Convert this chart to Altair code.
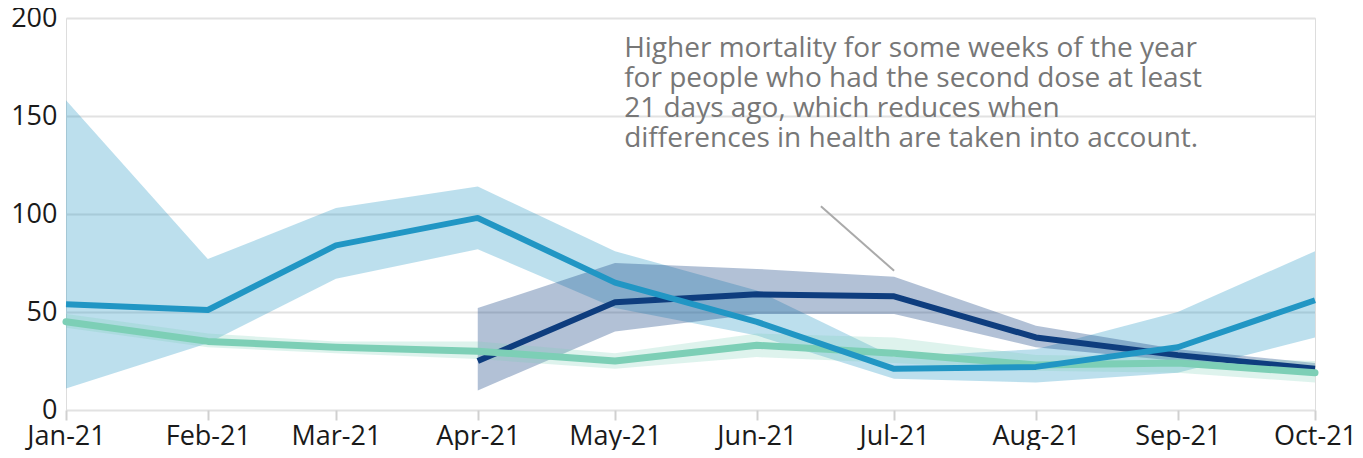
import altair as alt
import pandas as pd

months = ["2021-01-01T00:00:00", "2021-02-01T00:00:00", "2021-03-01T00:00:00",
          "2021-04-01T00:00:00", "2021-05-01T00:00:00", "2021-06-01T00:00:00",
          "2021-07-01T00:00:00", "2021-08-01T00:00:00", "2021-09-01T00:00:00",
          "2021-10-01T00:00:00"]

# light blue series
blue_val = [54, 51, 84, 98, 65, 45, 21, 22, 32, 56]
blue_lo = [11, 34, 67, 82, 52, 38, 16, 14, 19, 37]
blue_hi = [158, 77, 103, 114, 81, 61, 27, 31, 50, 81]

# navy series (from Apr-21)
navy_months = months[3:]
navy_val = [25, 55, 59, 58, 37, 28, 21]
navy_lo = [10, 40, 49, 49, 32, 25, 20]
navy_hi = [52, 75, 72, 68, 43, 31, 24]

# green series
green_val = [45, 35, 32, 30, 25, 33, 29, 23, 24, 19]
green_lo = [42, 32, 29, 26, 21, 27, 24, 20, 19, 14]
green_hi = [49, 39, 35, 35, 29, 39, 37, 28, 27, 25]

note_text = ["Higher mortality for some weeks of the year",
             "for people who had the second dose at least",
             "21 days ago, which reduces when",
             "differences in health are taken into account."]
note_date = ["2021-05-03T00:00:00"]
note_value = [191.5]
pointer_dates = ["2021-06-15T00:00:00", "2021-07-01T00:00:00"]
pointer_values = [104, 71]

BLUE = "#2196c4"
NAVY = "#0e3d7e"
GREEN = "#7dcfb6"
FONT = "Open Sans"

def frame(dates, val, lo, hi):
    return pd.DataFrame({"date": dates, "value": val, "lo": lo, "hi": hi})

blue_df = frame(months, blue_val, blue_lo, blue_hi)
navy_df = frame(navy_months, navy_val, navy_lo, navy_hi)
green_df = frame(months, green_val, green_lo, green_hi)

x_values = [alt.DateTime(year=2021, month=m, date=1) for m in range(1, 11)]
x_enc = alt.X("date:T",
              scale=alt.Scale(domain=[alt.DateTime(year=2021, month=1, date=1),
                                      alt.DateTime(year=2021, month=10, date=1)],
                              nice=False),
              axis=alt.Axis(values=x_values, format="%b-%y", title=None, grid=False,
                            domain=False, tickSize=10, tickWidth=2, tickColor="#d0d0d0",
                            labelFontSize=27, labelFont=FONT, labelColor="#1a1a1a",
                            labelPadding=3, labelFlush=False, labelOverlap=False))
y_scale = alt.Scale(domain=[0, 200], nice=False)
y_enc = alt.Y("lo:Q", scale=y_scale,
              axis=alt.Axis(values=[0, 50, 100, 150, 200], title=None, domain=False,
                            ticks=False, grid=True, gridColor="#e2e2e2", gridWidth=2,
                            labelFontSize=27, labelFont=FONT, labelColor="#1a1a1a",
                            labelPadding=9))

def band(df, color, op):
    return alt.Chart(df).mark_area(color=color, opacity=op).encode(
        x=x_enc, y=y_enc, y2="hi:Q")

def line(df, color, w, cap):
    return alt.Chart(df).mark_line(color=color, strokeWidth=w, strokeCap=cap,
                                   strokeJoin="round").encode(
        x=x_enc, y=alt.Y("value:Q", scale=y_scale))

note_df = pd.DataFrame({"date": note_date, "value": note_value, "text": [note_text]})
note = alt.Chart(note_df).mark_text(align="left", baseline="top", fontSize=28, font=FONT,
                                    color="#777777", lineHeight=30).encode(
    x="date:T", y=alt.Y("value:Q", scale=y_scale), text="text")

ptr_df = pd.DataFrame({"date": [pointer_dates[0]], "date2": [pointer_dates[1]],
                       "value": [pointer_values[0]], "value2": [pointer_values[1]]})
pointer = alt.Chart(ptr_df).mark_rule(color="#aaaaaa", strokeWidth=2).encode(
    x="date:T", x2="date2:T", y=alt.Y("value:Q", scale=y_scale), y2="value2:Q")

chart = alt.layer(
    band(blue_df, BLUE, 0.3),
    band(navy_df, NAVY, 0.32),
    band(green_df, GREEN, 0.25),
    line(navy_df, NAVY, 6, "butt"),
    line(green_df, GREEN, 7, "round"),
    line(blue_df, BLUE, 6, "butt"),
    pointer,
    note,
).properties(
    width=1249, height=392,
    padding={"left": 58, "top": 10, "right": 40, "bottom": 40},
    autosize=alt.AutoSizeParams(type="none"),
).configure_view(stroke=None).configure(background="white")

chart.save("out.html", embed_options={"renderer": "svg", "actions": False})
